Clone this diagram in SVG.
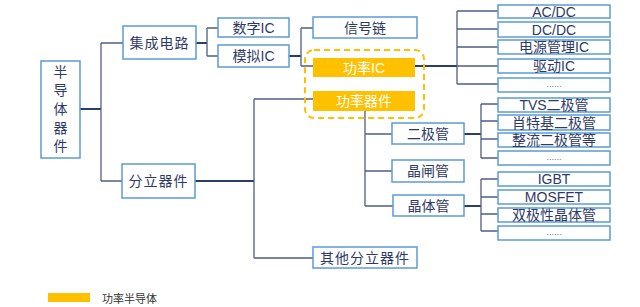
<svg xmlns="http://www.w3.org/2000/svg" width="640" height="307" viewBox="0 0 640 307">
<style>
.b{fill:#fff;stroke:#5b9bd5;stroke-width:1.5}
.o{fill:#ffc000;stroke:none}
.t{font-family:"Liberation Sans","Noto Sans CJK SC",sans-serif;font-size:14px;fill:#2e3a66;text-anchor:middle;dominant-baseline:central}
.w{fill:#fff}
.d{font-size:9px;fill:#6a7490}
.k{fill:none;stroke:#2b3d6b;stroke-width:2}
.n{fill:none;stroke:#4f5f82;stroke-width:1.3}
</style>
<rect width="640" height="307" fill="#fff"/>
<g id="connectors">
<path class="k" d="M80 109H101M196 43H207M289 56H301M195 181H254M415 66H457M464 134H481M464 206H481"/>
<path class="n" d="M101 43V181M101 43H123M101 181H122"/>
<path class="n" d="M207 28V56M207 28H218M207 56H218"/>
<path class="n" d="M301 28V66M301 28H313M301 66H313"/>
<path class="n" d="M254 99V258M254 99H313M254 258H313"/>
<path class="n" d="M457 11V84M457 11H498M457 29H498M457 47H498M457 66H498M457 84H498"/>
<path class="n" d="M365 111V206M365 134H392M365 171H392M365 206H393"/>
<path class="n" d="M481 104V158M481 104H498M481 121H498M481 139H498M481 158H498"/>
<path class="n" d="M481 179V231M481 179H498M481 197H498M481 214H498M481 231H498"/>
</g>
<g id="n-root"><rect class="b" x="41" y="61" width="39" height="97"/>
<text class="t" x="60.5" y="72">半</text><text class="t" x="60.5" y="90">导</text><text class="t" x="60.5" y="109">体</text><text class="t" x="60.5" y="128">器</text><text class="t" x="60.5" y="146">件</text></g>
<g id="n-jcdl"><rect class="b" x="123" y="26" width="73" height="33"/><text class="t" x="159.5" y="42.5" letter-spacing="1">集成电路</text></g>
<g id="n-flqj"><rect class="b" x="122" y="164" width="73" height="34"/><text class="t" x="158.5" y="181" letter-spacing="1">分立器件</text></g>
<g id="n-szic"><rect class="b" x="218" y="18" width="71" height="19"/><text class="t" x="253.5" y="27.5">数字IC</text></g>
<g id="n-mnic"><rect class="b" x="218" y="45" width="71" height="22"/><text class="t" x="253.5" y="56">模拟IC</text></g>
<g id="n-xhl"><rect class="b" x="313" y="17" width="104" height="21"/><text class="t" x="365" y="27.5">信号链</text></g>
<g id="n-power-group"><rect x="305" y="50" width="119" height="68" rx="9" fill="none" stroke="#ffc000" stroke-width="2" stroke-dasharray="6 4"/></g>
<g id="n-glic"><rect class="o" x="313" y="58" width="102" height="19"/><text class="t w" x="364" y="67.5">功率IC</text></g>
<g id="n-glqj"><rect class="o" x="313" y="91" width="102" height="20"/><text class="t w" x="364" y="101">功率器件</text></g>
<g id="n-qtfl"><rect class="b" x="313" y="247" width="104" height="21"/><text class="t" x="365" y="257.5" letter-spacing="1">其他分立器件</text></g>
<g id="n-ejg"><rect class="b" x="392" y="123" width="72" height="21"/><text class="t" x="428" y="133.5">二极管</text></g>
<g id="n-jzg"><rect class="b" x="392" y="160" width="72" height="22"/><text class="t" x="428" y="171">晶闸管</text></g>
<g id="n-jtg"><rect class="b" x="393" y="195" width="71" height="21"/><text class="t" x="428.5" y="205.5">晶体管</text></g>
<g id="n-acdc"><rect class="b" x="498" y="5" width="112" height="13"/><text class="t" x="554" y="11.5">AC/DC</text></g>
<g id="n-dcdc"><rect class="b" x="498" y="22" width="112" height="15"/><text class="t" x="554" y="29.5">DC/DC</text></g>
<g id="n-dygl"><rect class="b" x="498" y="40" width="112" height="14"/><text class="t" x="554" y="47">电源管理IC</text></g>
<g id="n-qdic"><rect class="b" x="498" y="59" width="112" height="14"/><text class="t" x="554" y="66">驱动IC</text></g>
<g id="n-etc1"><rect class="b" x="498" y="78" width="112" height="14"/><text class="t d" x="554" y="84">......</text></g>
<g id="n-tvs"><rect class="b" x="498" y="98" width="112" height="14"/><text class="t" x="554" y="105">TVS二极管</text></g>
<g id="n-stj"><rect class="b" x="498" y="115" width="112" height="15"/><text class="t" x="554" y="122.5">肖特基二极管</text></g>
<g id="n-zl"><rect class="b" x="498" y="133" width="112" height="14"/><text class="t" x="554" y="140">整流二极管等</text></g>
<g id="n-etc2"><rect class="b" x="498" y="151" width="112" height="14"/><text class="t d" x="554" y="157">......</text></g>
<g id="n-igbt"><rect class="b" x="498" y="172" width="112" height="14"/><text class="t" x="554" y="179">IGBT</text></g>
<g id="n-mosfet"><rect class="b" x="498" y="190" width="112" height="14"/><text class="t" x="554" y="197">MOSFET</text></g>
<g id="n-sjx"><rect class="b" x="498" y="208" width="112" height="14"/><text class="t" x="554" y="215">双极性晶体管</text></g>
<g id="n-etc3"><rect class="b" x="498" y="226" width="112" height="14"/><text class="t d" x="554" y="232">......</text></g>
<g id="legend"><rect class="o" x="48" y="293" width="42" height="9"/><text x="102" y="297.5" font-family="'Noto Sans CJK SC',sans-serif" font-size="11" fill="#333" dominant-baseline="central">功率半导体</text></g>
</svg>
